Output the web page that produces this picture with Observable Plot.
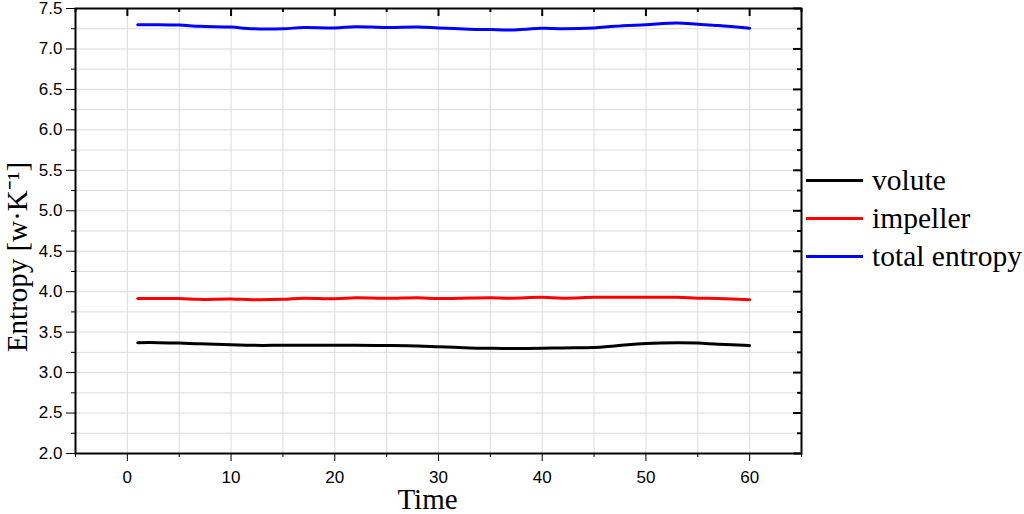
<!DOCTYPE html>
<html><head><meta charset="utf-8">
<script src="https://cdn.jsdelivr.net/npm/d3@7"></script>
<script src="https://cdn.jsdelivr.net/npm/@observablehq/plot@0.6"></script>
<style>
body{margin:0;background:#fff}
#wrap{position:relative;width:1024px;height:514px}
#legend{position:absolute;left:806px;top:161px;font-family:"Liberation Serif",serif;font-size:29.5px;color:#000}
.item{display:flex;align-items:center;height:38px;white-space:nowrap}
.swatch{width:57px;height:3px;margin-right:9px}
</style></head>
<body><div id="wrap"></div>
<script>
const time     = [1,3,5,7,10,12,15,17,20,22,25,28,30,33,35,37,40,42,45,47,50,53,55,57,60];
const volute   = [3.37,3.37,3.365,3.355,3.345,3.337,3.337,3.337,3.337,3.337,3.335,3.33,3.32,3.305,3.30,3.297,3.30,3.305,3.31,3.33,3.36,3.37,3.365,3.35,3.335];
const impeller = [3.915,3.915,3.915,3.905,3.91,3.90,3.905,3.92,3.912,3.925,3.918,3.925,3.915,3.922,3.925,3.92,3.93,3.92,3.93,3.93,3.93,3.932,3.92,3.915,3.90];
const total    = [7.30,7.30,7.295,7.28,7.27,7.25,7.25,7.265,7.26,7.275,7.265,7.27,7.26,7.245,7.24,7.235,7.255,7.25,7.26,7.28,7.30,7.32,7.305,7.29,7.255];
const seriesNames  = ["volute","impeller","total entropy"];
const seriesColors = ["#000000","#ff0000","#0000ff"];
const xMajor = [0,10,20,30,40,50,60];
const xMinor = [-5,5,15,25,35,45,55,65];
const xGrid  = d3.range(-5,66,5);
const yMajor = d3.range(2,7.51,0.5);
const yMinor = d3.range(2.25,7.5,0.5);
const yGrid  = d3.range(2,7.51,0.25);

const seriesValues = [volute, impeller, total];
const rows = [];
seriesNames.forEach((s,i)=>time.forEach((t,j)=>rows.push({time:t,value:seriesValues[i][j],series:s})));

const W=1024,H=514,mL=75,mR=223,mT=8,mB=61;
const pw=W-mL-mR, ph=H-mT-mB;
const sans="Liberation Sans, Arial, sans-serif";
const serif="Liberation Serif, Times New Roman, serif";

const chart = Plot.plot({
  width:W,height:H,marginLeft:mL,marginRight:mR,marginTop:mT,marginBottom:mB,
  style:{background:"#fff",color:"#000"},
  x:{domain:[-5,65]},
  y:{domain:[2,7.5]},
  color:{domain:seriesNames,range:seriesColors},
  marks:[
    Plot.gridX(xGrid,{stroke:"#dcdcdc",strokeOpacity:1,strokeWidth:1}),
    Plot.gridY(yGrid,{stroke:"#dcdcdc",strokeOpacity:1,strokeWidth:1}),
    Plot.line(rows,{x:"time",y:"value",stroke:"series",z:"series",curve:"catmull-rom",strokeWidth:3}),
    Plot.axisX({ticks:xMajor,tickSize:8,tickPadding:9,tickWidth:2,fontSize:17,fontFamily:sans,label:null,stroke:"#000"}),
    Plot.axisX({ticks:xMinor,tickSize:4,tickWidth:2,tickFormat:()=>"",label:null}),
    Plot.axisY({ticks:yMajor,tickSize:9,tickPadding:4,tickWidth:2,fontSize:17,fontFamily:sans,tickFormat:d3.format(".1f"),label:null}),
    Plot.axisY({ticks:yMinor,tickSize:4,tickWidth:2,tickFormat:()=>"",label:null}),
    Plot.tickX(xMajor,{x:d=>d,insetBottom:ph-8,stroke:"#000",strokeWidth:2}),
    Plot.tickX(xMinor,{x:d=>d,insetBottom:ph-4,stroke:"#000",strokeWidth:2}),
    Plot.tickY(yMajor,{y:d=>d,insetLeft:pw-8,stroke:"#000",strokeWidth:2}),
    Plot.tickY(yMinor,{y:d=>d,insetLeft:pw-4,stroke:"#000",strokeWidth:2}),
    Plot.frame({stroke:"#000",strokeWidth:2}),
    Plot.text(["Time"],{frameAnchor:"bottom",textAnchor:"middle",lineAnchor:"middle",dy:46,dx:-11,fontSize:29,fontFamily:serif,fill:"#000"}),
    Plot.text(["Entropy [w·K⁻¹]"],{frameAnchor:"left",textAnchor:"middle",lineAnchor:"middle",rotate:-90,dx:-58,dy:26,fontSize:29,fontFamily:serif,fill:"#000"})
  ]
});
const wrap=document.getElementById("wrap");
wrap.appendChild(chart);
const legend=document.createElement("div");
legend.id="legend";
seriesNames.forEach((s,i)=>{
  const it=document.createElement("div");it.className="item";
  const sw=document.createElement("div");sw.className="swatch";sw.style.background=seriesColors[i];
  const tx=document.createElement("span");tx.textContent=s;
  it.appendChild(sw);it.appendChild(tx);legend.appendChild(it);
});
wrap.appendChild(legend);
</script>
</body></html>
